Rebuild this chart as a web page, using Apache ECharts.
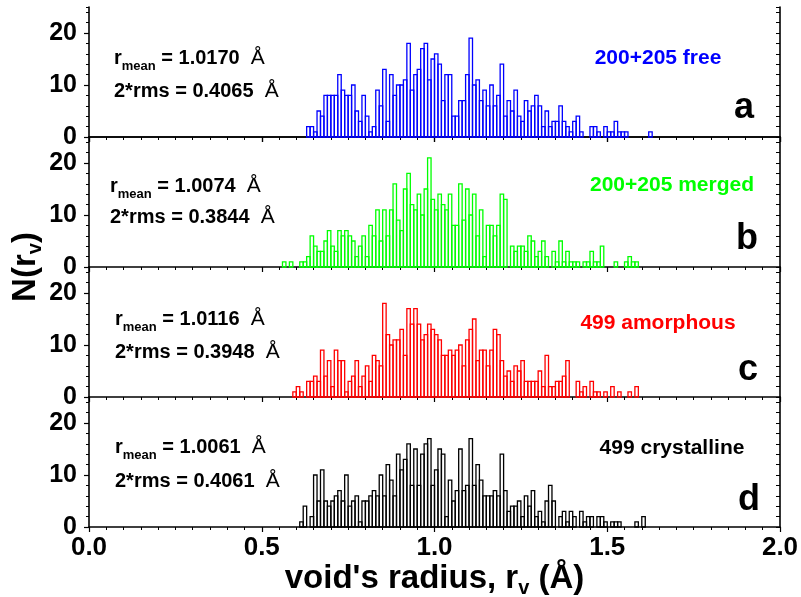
<!DOCTYPE html>
<html>
<head>
<meta charset="utf-8">
<script src="https://cdn.jsdelivr.net/npm/echarts@6/dist/echarts.min.js"></script>
<style>
  html, body { margin: 0; padding: 0; background: #fff; }
  #chart { width: 801px; height: 597px; }
</style>
</head>
<body>
<div id="chart"></div>
<script>
// histogram bins, width 0.01 A, first bin start per panel
const BIN = 0.01;

const startA = 0.63;
const countsA = [2, 2, 1, 5, 4, 8, 8, 8, 8, 12, 9, 8, 8, 10, 5, 3, 8, 4, 1, 2,
  9, 6, 13, 3, 12, 8, 10, 10, 11, 18, 9, 12, 13, 17, 18, 11, 15, 16, 14, 7,
  12, 12, 4, 4, 7, 7, 12, 19, 10, 11, 7, 9, 6, 10, 6, 8, 14, 4, 7, 5,
  9, 4, 3, 7, 5, 6, 8, 6, 2, 5, 2, 3, 3, 6, 3, 2, 1, 3, 4, 1,
  0, 0, 2, 2, 1, 0, 2, 1, 1, 3, 1, 1, 1, 0, 0, 0, 0, 0, 0, 1];

const startB = 0.56;
const countsB = [1, 0, 1, 0, 0, 1, 1, 2, 6, 4, 3, 3, 5, 7, 4, 3, 7, 6, 7, 6,
  5, 2, 4, 6, 2, 8, 6, 11, 5, 11, 6, 11, 16, 9, 7, 15, 18, 12, 11, 14,
  10, 15, 21, 13, 11, 14, 12, 11, 14, 8, 8, 16, 9, 15, 10, 14, 6, 11, 2, 8,
  8, 6, 8, 14, 13, 0, 4, 3, 4, 4, 3, 6, 5, 2, 3, 5, 2, 0, 3, 1,
  5, 1, 3, 1, 1, 1, 0, 1, 1, 3, 1, 1, 4, 0, 0, 0, 1, 0, 0, 1, 2, 1, 1];

const startC = 0.59;
const countsC = [1, 2, 1, 0, 3, 3, 4, 3, 9, 4, 7, 2, 9, 7, 7, 1, 3, 4, 7, 2,
  4, 6, 3, 8, 7, 6, 18, 12, 10, 11, 11, 13, 8, 17, 14, 17, 14, 11, 12, 14,
  13, 12, 11, 8, 8, 9, 8, 9, 10, 6, 11, 13, 15, 7, 9, 9, 6, 9, 13, 12,
  7, 4, 5, 3, 6, 5, 7, 3, 3, 3, 3, 5, 2, 8, 2, 2, 3, 3, 4, 7,
  0, 0, 3, 1, 2, 0, 3, 1, 1, 0, 1, 0, 2, 0, 1, 0, 0, 1, 0, 2];

const startD = 0.61;
const countsD = [1, 4, 0, 2, 10, 5, 11, 5, 4, 5, 6, 7, 5, 10, 4, 5, 6, 1, 5, 5,
  6, 7, 6, 10, 6, 12, 9, 6, 14, 11, 13, 16, 8, 15, 8, 14, 16, 17, 8, 11,
  15, 14, 2, 9, 5, 7, 15, 7, 8, 17, 8, 12, 9, 6, 6, 6, 7, 6, 14, 7,
  3, 4, 4, 5, 2, 6, 4, 7, 2, 3, 1, 5, 8, 5, 0, 2, 3, 1, 3, 2,
  0, 3, 1, 2, 2, 0, 2, 2, 1, 0, 1, 1, 1, 0, 0, 0, 0, 1, 0, 2];

const panelColors = ['#0000ff', '#00ff00', '#ff0000', '#000000'];
const panelNames = ['200+205 free', '200+205 merged', '499 amorphous', '499 crystalline'];
const panelLetters = ['a', 'b', 'c', 'd'];
const rMeans = ['1.0170', '1.0074', '1.0116', '1.0061'];
const rmsVals = ['0.4065', '0.3844', '0.3948', '0.4061'];
const xTicks = ['0.0', '0.5', '1.0', '1.5', '2.0'];

const FONT = 'Liberation Sans, Arial, Helvetica, sans-serif';
const chart = echarts.init(document.getElementById('chart'));

const panels = [
  { start: startA, counts: countsA },
  { start: startB, counts: countsB },
  { start: startC, counts: countsC },
  { start: startD, counts: countsD }
];

const GRID_LEFT = 89, GRID_W = 691, GRID_TOP = 7, GRID_H = 130;
const grids = [], xAxes = [], yAxes = [], series = [];

panels.forEach(function (p, i) {
  grids.push({ left: GRID_LEFT, top: GRID_TOP + i * GRID_H, width: GRID_W, height: GRID_H, outerBoundsMode: 'none' });
  xAxes.push({
    gridIndex: i, type: 'value', min: 0, max: 2, interval: 0.5, position: 'bottom',
    axisLine: { show: true, onZero: false, lineStyle: { color: '#000', width: 1.6 } },
    axisTick: { show: true, inside: false, length: 5, lineStyle: { color: '#000', width: 1.2 } },
    minorTick: { show: true, splitNumber: 10, length: 3, lineStyle: { color: '#000', width: 1 } },
    splitLine: { show: false },
    axisLabel: {
      show: i === 3, margin: 8, color: '#000', fontFamily: FONT, fontWeight: 'bold', fontSize: 26,
      formatter: function (v) { return xTicks[Math.round(v / 0.5)]; }
    },
    name: i === 3 ? "{t|void's radius, r}{s|v}{t| (\u00c5)}" : '',
    nameLocation: 'middle', nameGap: 32,
    nameTextStyle: {
      color: '#000',
      rich: {
        t: { fontFamily: FONT, fontWeight: 'bold', fontSize: 33, color: '#000' },
        s: { fontFamily: FONT, fontWeight: 'bold', fontSize: 20, color: '#000', padding: [19, 0, 0, 0] }
      }
    }
  });
  // left axis with labels and major ticks
  yAxes.push({
    gridIndex: i, type: 'value', min: 0, max: 25, interval: 10, position: 'left',
    axisLine: { show: true, lineStyle: { color: '#000', width: 1.6 } },
    axisTick: { show: true, inside: false, length: 5, lineStyle: { color: '#000', width: 1.2 } },
    splitLine: { show: false },
    axisLabel: { show: true, showMaxLabel: false, margin: 12, color: '#000', fontFamily: FONT, fontWeight: 'bold', fontSize: 25 }
  });
  // left minor ticks every 2
  yAxes.push({
    gridIndex: i, type: 'value', min: 0, max: 25, interval: 2, position: 'left',
    axisLine: { show: false }, splitLine: { show: false }, axisLabel: { show: false },
    axisTick: { show: true, inside: false, length: 3, lineStyle: { color: '#000', width: 1 } }
  });
  // right frame with inner ticks
  yAxes.push({
    gridIndex: i, type: 'value', min: 0, max: 25, interval: 2, position: 'right',
    axisLine: { show: true, lineStyle: { color: '#000', width: 1.6 } },
    splitLine: { show: false }, axisLabel: { show: false },
    axisTick: { show: true, inside: true, length: 4, lineStyle: { color: '#000', width: 1 } }
  });

  const data = [];
  p.counts.forEach(function (c, k) {
    if (c > 0) data.push([Math.round(p.start * 100 + k) / 100, c]);
  });
  const color = panelColors[i];
  series.push({
    type: 'custom', xAxisIndex: i, yAxisIndex: i * 3, data: data, silent: true,
    renderItem: function (params, api) {
      const x0 = api.value(0), v = api.value(1);
      const a = api.coord([x0, 0]);
      const b = api.coord([x0 + BIN, v]);
      return {
        type: 'rect',
        shape: { x: a[0], y: b[1], width: b[0] - a[0], height: a[1] - b[1] },
        style: { fill: 'none', stroke: color, lineWidth: 1.3 }
      };
    }
  });
});

// top frame of panel a
xAxes.push({
  gridIndex: 0, type: 'value', min: 0, max: 2, interval: 0.5, position: 'top',
  axisLine: { show: true, lineStyle: { color: '#000', width: 1.6 } },
  axisTick: { show: true, inside: true, length: 5, lineStyle: { color: '#000', width: 1.2 } },
  minorTick: { show: true, splitNumber: 10, length: 3, lineStyle: { color: '#000', width: 1 } },
  splitLine: { show: false }, axisLabel: { show: false }
});

// full-height grid carrying the y title
grids.push({ left: GRID_LEFT, top: GRID_TOP, width: GRID_W, height: GRID_H * 4, outerBoundsMode: 'none' });
xAxes.push({ gridIndex: 4, type: 'value', show: false, min: 0, max: 1 });
yAxes.push({
  gridIndex: 4, type: 'value', min: 0, max: 1, position: 'left',
  axisLine: { show: false }, axisTick: { show: false }, axisLabel: { show: false }, splitLine: { show: false },
  name: '{t|N(r}{s|v}{t|)}', nameLocation: 'middle', nameRotate: 90, nameGap: 44,
  nameTextStyle: {
    color: '#000',
    rich: {
      t: { fontFamily: FONT, fontWeight: 'bold', fontSize: 33, color: '#000' },
      s: { fontFamily: FONT, fontWeight: 'bold', fontSize: 20, color: '#000', padding: [19, 0, 0, 0] }
    }
  }
});

// annotations
const statX = [114, 110, 115, 115];
const statY1 = [58, 186, 319, 447];
const statY2 = [91, 217, 352, 481];
const nameX = [658, 672, 658, 672];
const nameY = [58, 185, 323, 448];
const letterX = [744, 747, 748, 749];
const letterY = [108, 239, 370, 500];

const graphics = [];
for (let i = 0; i < 4; i++) {
  graphics.push({
    type: 'text', x: statX[i], y: statY1[i], silent: true,
    style: {
      text: '{b|r}{s|mean}{b| = ' + rMeans[i] + '  }{n|\u00c5}',
      fill: '#000', align: 'left', verticalAlign: 'middle',
      rich: {
        b: { fontFamily: FONT, fontWeight: 'bold', fontSize: 20, fill: '#000' },
        s: { fontFamily: FONT, fontWeight: 'bold', fontSize: 13, fill: '#000', padding: [16, 0, 0, 0] },
        n: { fontFamily: FONT, fontWeight: 'normal', fontSize: 21, fill: '#000' }
      }
    }
  });
  graphics.push({
    type: 'text', x: statX[i], y: statY2[i], silent: true,
    style: {
      text: '{b|2*rms = ' + rmsVals[i] + '  }{n|\u00c5}',
      fill: '#000', align: 'left', verticalAlign: 'middle',
      rich: {
        b: { fontFamily: FONT, fontWeight: 'bold', fontSize: 20, fill: '#000' },
        n: { fontFamily: FONT, fontWeight: 'normal', fontSize: 21, fill: '#000' }
      }
    }
  });
  graphics.push({
    type: 'text', x: nameX[i], y: nameY[i], silent: true,
    style: {
      text: panelNames[i], fill: panelColors[i], align: 'center', verticalAlign: 'middle',
      font: 'bold 21px ' + FONT
    }
  });
  graphics.push({
    type: 'text', x: letterX[i], y: letterY[i], silent: true,
    style: {
      text: panelLetters[i], fill: '#000', align: 'center', verticalAlign: 'middle',
      font: 'bold 36px ' + FONT
    }
  });
}

chart.setOption({
  animation: false,
  backgroundColor: '#fff',
  grid: grids,
  xAxis: xAxes,
  yAxis: yAxes,
  series: series,
  graphic: graphics
});
</script>
</body>
</html>
